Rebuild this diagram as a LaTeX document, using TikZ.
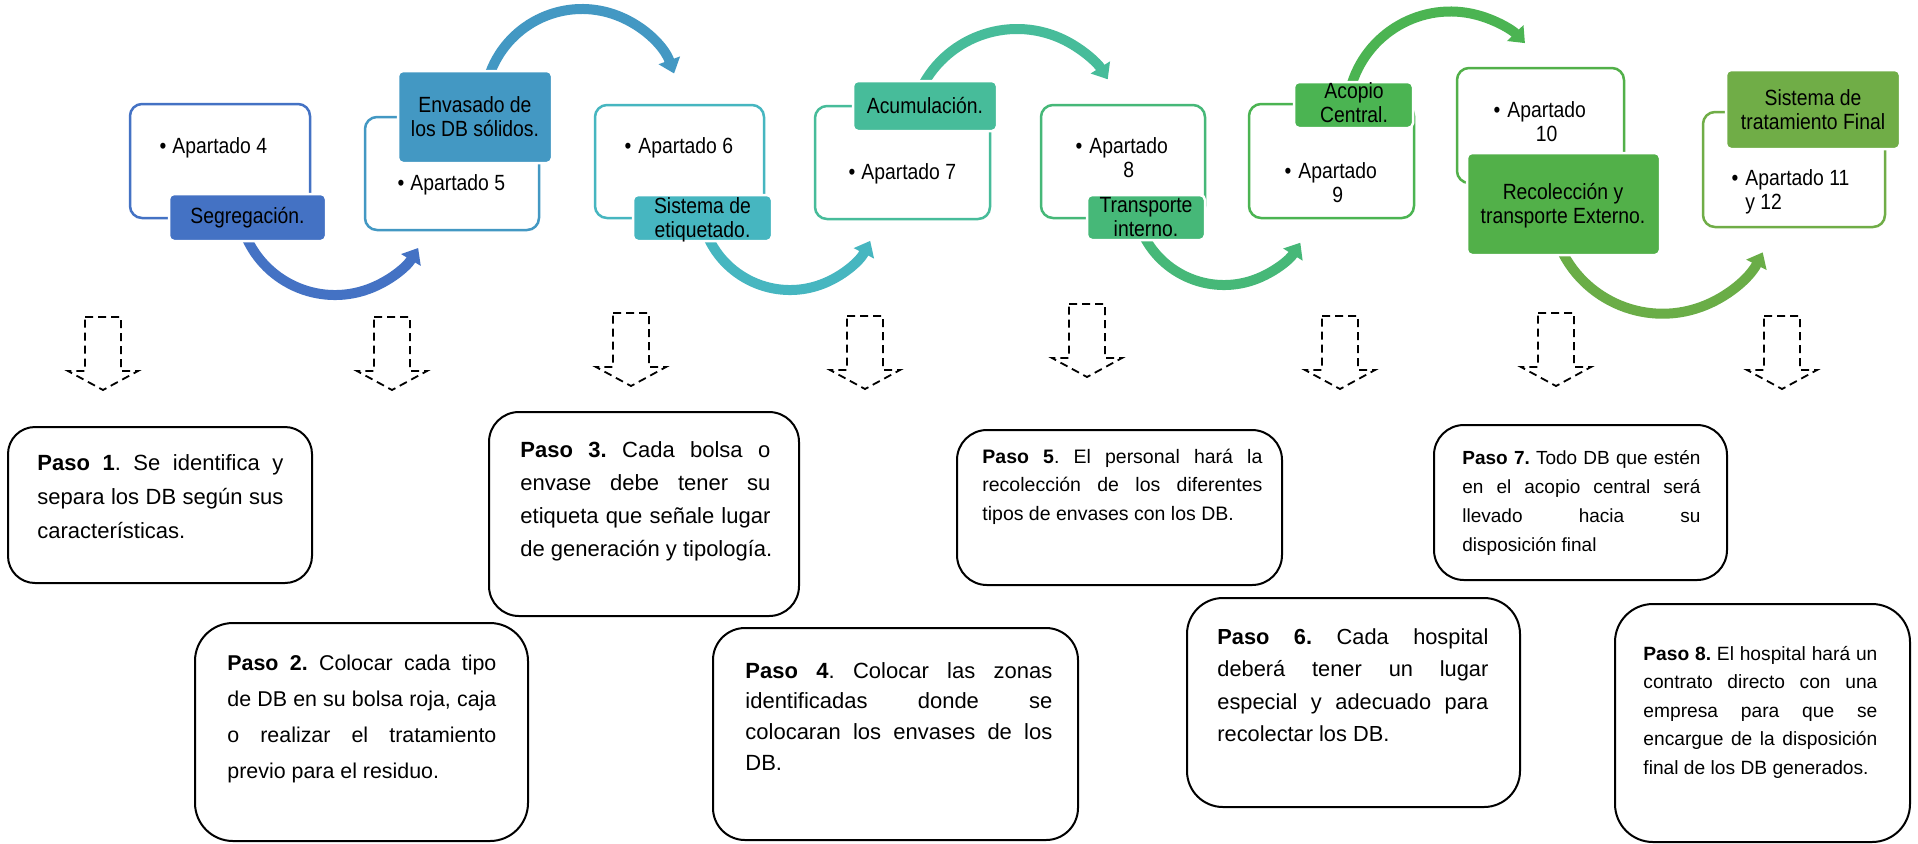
\documentclass[tikz,border=0pt]{standalone}
\usepackage{fontspec}
\setmainfont{Liberation Sans}
\newfontfamily\narrowsans[FakeStretch=0.88]{Liberation Sans}
\usetikzlibrary{arrows.meta,calc,fit}
\frenchspacing

\definecolor{cA}{HTML}{4472C4}
\definecolor{cB}{HTML}{4398C3}
\definecolor{cC}{HTML}{46B6C0}
\definecolor{cD}{HTML}{47BC9A}
\definecolor{cE}{HTML}{46B878}
\definecolor{cF}{HTML}{4BB452}
\definecolor{cG}{HTML}{52B049}
\definecolor{cH}{HTML}{70AD47}
\definecolor{cI}{HTML}{6AAD47}

% two-line item texts: centred or left aligned, first baseline is the node base
\newcommand\twoc[2]{\vtop{\baselineskip=12.25pt\halign{\hfil##\hfil\cr#1\cr#2\cr}}}
\newcommand\twol[2]{\vtop{\baselineskip=12.25pt\hbox{#1}\hbox{#2}}}
% justified paragraph built line by line
\newcommand\pasopar[3]{\vtop{\baselineskip=#1\relax\hsize=#2\relax #3}}
\newcommand\fullln[1]{\hbox to\hsize{#1}}
\newcommand\lastln[1]{\hbox{#1}}

\tikzset{
  outl/.style={draw=#1, line width=1.25pt, rounded corners=6pt, inner sep=0pt},
  lab/.style={fill=#1, draw=white, line width=1.25pt, rounded corners=2.5pt, inner sep=0pt},
  labtxt/.style={font=\narrowsans\fontsize{11pt}{12.25pt}\selectfont, inner sep=0pt, anchor=base},
  itm/.style={font=\narrowsans\fontsize{11pt}{12.25pt}\selectfont, inner sep=0pt, anchor=base west},
  bul/.style={font=\narrowsans\fontsize{11pt}{12.25pt}\selectfont, inner sep=0pt, anchor=base},
  pasobox/.style={draw=black, line width=1pt, rounded corners=#1, inner sep=0pt},
  pasobox/.default=15pt,
  pasotxt/.style={inner sep=0pt, anchor=base west},
  flow/.style={line width=5pt, draw=#1, -{Triangle[width=11pt,length=7pt]}},
  dashline/.style={draw=black, line width=0.9pt, dash pattern=on 4pt off 2.5pt},
  downarrow/.pic={\draw[dashline] (-18,0) -- (18,0) -- (18,54) -- (35,54) -- (0,73)
      -- (-35,54) -- (-18,54) -- cycle;}
}

\begin{document}
\begin{tikzpicture}[x=0.5pt, y=-0.5pt]
\useasboundingbox (0,0) rectangle (1918,843);
\fill[white] (0,0) rectangle (1918,843);

% ---- outlined boxes of the process row
\node[outl=cA, fit={(130,104) (310,218)}] (O1) {};
\node[outl=cB, fit={(365,117) (539,230)}] (O2) {};
\node[outl=cC, fit={(595,105) (764,218)}] (O3) {};
\node[outl=cD, fit={(815,106) (990,219)}] (O4) {};
\node[outl=cE, fit={(1041,105) (1205,218)}] (O5) {};
\node[outl=cF, fit={(1249,104) (1414,218)}] (O6) {};
\node[outl=cG, fit={(1457,68) (1624,183)}] (O7) {};
\node[outl=cH, fit={(1703,112) (1885,227)}] (O8) {};

% ---- curved flow arrows between the stages
\coordinate (a1) at ($(335,198)+(160:97)$);
\coordinate (a2) at ($(582,107)+(198:98)$);
\coordinate (a3) at ($(790,200)+(160:90)$);
\coordinate (a4) at ($(1017,136)+(207:107)$);
\coordinate (a5) at ($(1224,195)+(160:90)$);
\coordinate (a6) at ($(1450.5,115)+(195:103.5)$);
\coordinate (a7) at ($(1662.6,201.3)+(160:112.4)$);
\draw[flow=cA] (a1) arc[start angle=160, end angle=31, radius=97];
\draw[flow=cB] (a2) arc[start angle=198, end angle=340, radius=98];
\draw[flow=cC] (a3) arc[start angle=160, end angle=27, radius=90];
\draw[flow=cD] (a4) arc[start angle=207, end angle=328, radius=107];
\draw[flow=cE] (a5) arc[start angle=160, end angle=32, radius=90];
\draw[flow=cF] (a6) arc[start angle=195, end angle=316, radius=103.5];
\draw[flow=cI] (a7) arc[start angle=160, end angle=27, radius=112.4];

% ---- stage titles
\node[lab=cA, fit={(169,194) (326,241)}] (L1) {};
\node[lab=cB, fit={(398,71) (552,163)}] (L2) {};
\node[lab=cC, fit={(633,195) (772,241)}] (L3) {};
\node[lab=cD, fit={(853,81) (997,131)}] (L4) {};
\node[lab=cE, fit={(1087,195) (1205,240)}] (L5) {};
\node[lab=cF, fit={(1294,82) (1413,128)}] (L6) {};
\node[lab=cG, fit={(1467,153) (1660,255)}] (L7) {};
\node[lab=cH, fit={(1726,70) (1900,149)}] (L8) {};

\node[labtxt] (L1t) at (247.5,223) {Segregación.};
\node[labtxt] (L2t) at (475,112) {\twoc{Envasado de}{los DB sólidos.}};
\node[labtxt] (L3t) at (702.5,213) {\twoc{Sistema de}{etiquetado.}};
\node[labtxt] (L4t) at (925,113) {Acumulación.};
\node[labtxt] (L5t) at (1146,212) {\twoc{Transporte}{interno.}};
\node[labtxt] (L6t) at (1354,98) {\twoc{Acopio}{Central.}};
\node[labtxt] (L7t) at (1563,199) {\twoc{Recolección y}{transporte Externo.}};
\node[labtxt] (L8t) at (1813,105) {\twoc{Sistema de}{tratamiento Final}};

% ---- bulleted references
\node[bul] (b1) at (163,153) {•};
\node[itm] (i1) at (172,153) {Apartado 4};
\node[bul] (b2) at (401,190) {•};
\node[itm] (i2) at (410,190) {Apartado 5};
\node[bul] (b3) at (628,153) {•};
\node[itm] (i3) at (638,153) {Apartado 6};
\node[bul] (b4) at (852,179) {•};
\node[itm] (i4) at (861,179) {Apartado 7};
\node[bul] (b5) at (1079,153) {•};
\node[itm] (i5) at (1089,153) {\twoc{Apartado}{8}};
\node[bul] (b6) at (1288,178) {•};
\node[itm] (i6) at (1298,178) {\twoc{Apartado}{9}};
\node[bul] (b7) at (1497,117) {•};
\node[itm] (i7) at (1507,117) {\twoc{Apartado}{10}};
\node[bul] (b8) at (1735,185) {•};
\node[itm] (i8) at (1745,185) {\twol{Apartado 11}{y 12}};

% ---- dashed down arrows
\pic (d1) at (103,317) {downarrow};
\pic (d2) at (392,317) {downarrow};
\pic (d3) at (631,313) {downarrow};
\pic (d4) at (865,316) {downarrow};
\pic (d5) at (1087,304) {downarrow};
\pic (d6) at (1340,316) {downarrow};
\pic (d7) at (1556,313) {downarrow};
\pic (d8) at (1782,316) {downarrow};

% ---- step descriptions
\node[pasobox=13.5pt, fit={(8,427) (312,583)}] (P1) {};
\node[pasobox=19pt, fit={(195,623) (528,841)}] (P2) {};
\node[pasobox=15pt, fit={(489,412) (799,616)}] (P3) {};
\node[pasobox=16pt, fit={(713,628) (1078,840)}] (P4) {};
\node[pasobox=15pt, fit={(957,430) (1282,585)}] (P5) {};
\node[pasobox=18pt, fit={(1187,598) (1520,807)}] (P6) {};
\node[pasobox=15pt, fit={(1434,425) (1727,580)}] (P7) {};
\node[pasobox=19pt, fit={(1615,604) (1910,842)}] (P8) {};

\node[pasotxt, font=\fontsize{11pt}{17pt}\selectfont] (P1t) at (37,470)
  {\pasopar{17pt}{123pt}{%
    \fullln{\textbf{Paso 1}. Se identifica y}%
    \fullln{separa los DB según sus}%
    \lastln{características.}}};
\node[pasotxt, font=\fontsize{10.7pt}{18pt}\selectfont] (P2t) at (227,670)
  {\pasopar{18pt}{134.5pt}{%
    \fullln{\textbf{Paso 2.} Colocar cada tipo}%
    \fullln{de DB en su bolsa roja, caja}%
    \fullln{o realizar el tratamiento}%
    \lastln{previo para el residuo.}}};
\node[pasotxt, font=\fontsize{11pt}{16.5pt}\selectfont] (P3t) at (520,457)
  {\pasopar{16.5pt}{125pt}{%
    \fullln{\textbf{Paso 3.} Cada bolsa o}%
    \fullln{envase debe tener su}%
    \fullln{etiqueta que señale lugar}%
    \lastln{de generación y tipología.}}};
\node[pasotxt, font=\fontsize{11pt}{15.35pt}\selectfont] (P4t) at (745,678)
  {\pasopar{15.35pt}{153.5pt}{%
    \fullln{\textbf{Paso 4}. Colocar las zonas}%
    \fullln{identificadas donde se}%
    \fullln{colocaran los envases de los}%
    \lastln{DB.}}};
\node[pasotxt, font=\fontsize{9.75pt}{14.25pt}\selectfont] (P5t) at (982,463)
  {\pasopar{14.25pt}{140pt}{%
    \fullln{\textbf{Paso 5}. El personal hará la}%
    \fullln{recolección de los diferentes}%
    \lastln{tipos de envases con los DB.}}};
\node[pasotxt, font=\fontsize{10.9pt}{16.25pt}\selectfont] (P6t) at (1217,644)
  {\pasopar{16.25pt}{135.5pt}{%
    \fullln{\textbf{Paso 6.} Cada hospital}%
    \fullln{deberá tener un lugar}%
    \fullln{especial y adecuado para}%
    \lastln{recolectar los DB.}}};
\node[pasotxt, font=\fontsize{9.5pt}{14.65pt}\selectfont] (P7t) at (1462,464)
  {\pasopar{14.65pt}{119pt}{%
    \fullln{\textbf{Paso 7.} Todo DB que estén}%
    \fullln{en el acopio central será}%
    \fullln{llevado hacia su}%
    \lastln{disposición final}}};
\node[pasotxt, font=\fontsize{9.6pt}{14.25pt}\selectfont] (P8t) at (1643,660)
  {\pasopar{14.25pt}{117pt}{%
    \fullln{\textbf{Paso 8.} El hospital hará un}%
    \fullln{contrato directo con una}%
    \fullln{empresa para que se}%
    \fullln{encargue de la disposición}%
    \lastln{final de los DB generados.}}};
\end{tikzpicture}
\end{document}
